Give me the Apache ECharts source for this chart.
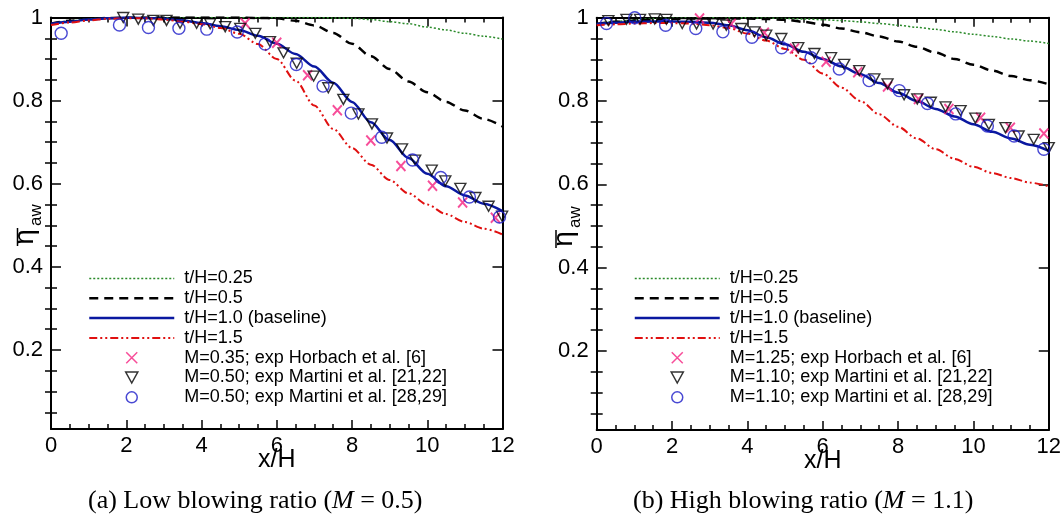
<!DOCTYPE html>
<html><head><meta charset="utf-8">
<script src="https://cdn.jsdelivr.net/npm/echarts@6/dist/echarts.min.js"></script>
<style>html,body{margin:0;padding:0;background:#fff}#c{width:1064px;height:523px}</style>
</head><body><div id="c"></div><script>
// ---------- data ----------
const yTickValues = [0.2, 0.4, 0.6, 0.8, 1];
const yMinorValues = [0.05,0.1,0.15,0.25,0.3,0.35,0.45,0.5,0.55,0.65,0.7,0.75,0.85,0.9,0.95];
const curveX = [0,0.5,1,1.5,2,2.5,3,3.5,4,4.5,5,5.5,6,6.5,7,7.5,8,8.5,9,9.5,10,10.5,11,11.5,12];

// (a) low blowing ratio, simulations
const aThick025 = [0.985,0.992,0.997,0.999,1.0,1.0,1.0,1.0,1.0,1.0,1.0,1.0,1.0,1.0,1.0,0.999,0.998,0.995,0.99,0.985,0.977,0.97,0.962,0.955,0.948];
const aThick05  = [0.985,0.992,0.996,0.999,1.0,1.0,1.0,1.0,1.0,1.0,1.0,0.999,0.998,0.992,0.981,0.963,0.937,0.907,0.876,0.846,0.82,0.797,0.776,0.756,0.738];
const aThick10  = [0.985,0.99,0.995,0.998,1.0,0.999,0.997,0.993,0.987,0.979,0.97,0.956,0.937,0.912,0.882,0.843,0.797,0.748,0.705,0.662,0.624,0.594,0.572,0.552,0.534];
const aThick15  = [0.982,0.988,0.993,0.997,0.998,0.998,0.995,0.99,0.984,0.975,0.961,0.936,0.9,0.848,0.788,0.732,0.686,0.646,0.609,0.577,0.55,0.527,0.508,0.492,0.478];
// (a) experiments
const aHorbachX = [5.16,6.0,6.82,7.61,8.5,9.3,10.14,10.94,11.81];
const aHorbachY = [0.986,0.939,0.861,0.777,0.704,0.643,0.595,0.555,0.518];
const aMart21X = [1.92,2.32,2.72,3.07,3.43,3.87,4.23,4.63,5.03,5.43,5.82,6.18,6.53,6.98,7.37,7.77,8.17,8.53,8.93,9.33,9.68,10.12,10.48,10.88,11.28,11.63,11.99];
const aMart21Y = [1.0,0.996,0.993,0.993,0.986,0.986,0.985,0.978,0.974,0.962,0.942,0.915,0.89,0.859,0.831,0.803,0.768,0.744,0.71,0.684,0.657,0.633,0.607,0.589,0.567,0.546,0.522];
const aMart28X = [0.27,1.82,2.59,3.4,4.14,4.95,5.69,6.52,7.23,7.98,8.79,9.61,10.36,11.12,11.92];
const aMart28Y = [0.962,0.982,0.976,0.974,0.972,0.965,0.936,0.887,0.835,0.77,0.712,0.657,0.615,0.568,0.52];

// (b) high blowing ratio, simulations
const bThick025 = [0.985,0.991,0.995,0.998,0.999,1.0,1.0,1.0,1.0,0.999,0.998,0.997,0.995,0.993,0.99,0.986,0.982,0.977,0.972,0.966,0.96,0.955,0.949,0.944,0.938];
const bThick05  = [0.985,0.99,0.993,0.995,0.997,0.998,0.998,0.998,0.998,0.997,0.995,0.99,0.983,0.974,0.965,0.955,0.943,0.93,0.916,0.901,0.887,0.873,0.86,0.85,0.84];
const bThick10  = [0.985,0.988,0.99,0.991,0.991,0.99,0.988,0.982,0.97,0.953,0.936,0.918,0.901,0.883,0.864,0.843,0.82,0.8,0.781,0.763,0.744,0.726,0.71,0.695,0.68];
const bThick15  = [0.982,0.984,0.986,0.987,0.987,0.986,0.982,0.975,0.962,0.945,0.925,0.899,0.866,0.832,0.8,0.768,0.738,0.71,0.684,0.661,0.642,0.627,0.615,0.604,0.595];
// (b) experiments
const bHorbachX = [2.73,3.57,4.45,5.25,6.09,6.93,7.72,8.54,9.35,10.19,10.98,11.87];
const bHorbachY = [0.998,0.985,0.964,0.926,0.894,0.869,0.835,0.805,0.781,0.76,0.736,0.722];
const bMart21X = [0.31,0.79,1.15,1.54,1.85,2.27,2.65,3.09,3.44,3.84,4.19,4.5,4.9,5.35,5.78,6.22,6.57,6.97,7.37,7.72,8.16,8.51,8.87,9.26,9.66,10.05,10.41,10.85,11.2,11.6,12.0];
const bMart21Y = [0.993,0.996,0.996,0.997,0.996,0.986,0.985,0.985,0.982,0.974,0.966,0.958,0.95,0.928,0.914,0.904,0.888,0.873,0.853,0.841,0.815,0.805,0.797,0.786,0.777,0.759,0.744,0.736,0.716,0.708,0.688];
const bMart28X = [0.26,1.01,1.83,2.63,3.35,4.12,4.91,5.69,6.44,7.23,8.03,8.78,9.53,10.37,11.08,11.87];
const bMart28Y = [0.986,1.0,0.982,0.974,0.966,0.953,0.928,0.904,0.877,0.849,0.825,0.794,0.769,0.74,0.716,0.684];

const lineNames = ['t/H=0.25','t/H=0.5','t/H=1.0 (baseline)','t/H=1.5'];
const aExpNames = ['M=0.35; exp Horbach et al. [6]','M=0.50; exp Martini et al. [21,22]','M=0.50; exp Martini et al. [28,29]'];
const bExpNames = ['M=1.25; exp Horbach et al. [6]','M=1.10; exp Martini et al. [21,22]','M=1.10; exp Martini et al. [28,29]'];
const captions = ['(a) Low blowing ratio (', 'M', ' = 0.5)', '(b) High blowing ratio (', 'M', ' = 1.1)'];

// ---------- styling ----------
const FONT = 'Liberation Sans';
const SERIF = 'Liberation Serif';
const lineStyles = [
  {color:'#2a8a2a', width:1.5, type:[2,2]},
  {color:'#000000', width:2.5, type:[9,6]},
  {color:'#0a18a0', width:2.5, type:'solid'},
  {color:'#e01010', width:2, type:[8,3,2,3,2,3]}
];
const X_PATH = 'path://M0 0L10 10M10 0L0 10';
const TRI_PATH = 'path://M0 0L11 0L5.5 10Z';
const expStyles = [
  {symbol:X_PATH, symbolSize:[9,10], border:'#f5207f', bw:2},
  {symbol:TRI_PATH, symbolSize:[11,10], border:'#000000', bw:1.4},
  {symbol:'circle', symbolSize:12, border:'#1c1cc8', bw:1.4}
];

function zip(xs, ys){ return xs.map((x,i)=>[x, ys[i]]); }

const axisLineStyle = {color:'#000', width:2};
const tickLineStyle = {color:'#000', width:1.5};

function xAxes(gi){
  const base = {type:'value', gridIndex:gi, min:0, max:12, interval:2, splitLine:{show:false},
    axisLine:{show:true, onZero:false, lineStyle:axisLineStyle},
    axisTick:{show:true, inside:true, length:9, lineStyle:tickLineStyle},
    minorTick:{show:true, splitNumber:4, length:5, lineStyle:tickLineStyle}};
  return [
    Object.assign({}, base, {position:'bottom',
      axisLabel:{show:true, fontSize:22, fontFamily:FONT, color:'#000', margin:6},
      name:'x/H', nameLocation:'middle', nameGap:19, nameMoveOverlap:false,
      nameTextStyle:{fontSize:25, fontFamily:FONT, color:'#000'}}),
    Object.assign({}, base, {position:'top', axisLabel:{show:false}})
  ];
}
function yAxes(gi){
  const base = {type:'value', gridIndex:gi, min:0.01, max:1, splitLine:{show:false}};
  return [
    Object.assign({}, base, {position:'left', axisLine:{show:true, onZero:false, lineStyle:axisLineStyle},
      axisTick:{show:true, inside:true, length:10, customValues:yTickValues, lineStyle:tickLineStyle},
      axisLabel:{show:true, customValues:yTickValues, fontSize:22, fontFamily:FONT, color:'#000', margin:8}}),
    Object.assign({}, base, {position:'left', axisLine:{show:false},
      axisTick:{show:true, inside:true, length:6, customValues:yMinorValues, lineStyle:tickLineStyle},
      axisLabel:{show:false}}),
    Object.assign({}, base, {position:'right', axisLine:{show:true, onZero:false, lineStyle:axisLineStyle},
      axisTick:{show:true, inside:true, length:10, customValues:yTickValues, lineStyle:tickLineStyle},
      axisLabel:{show:false}}),
    Object.assign({}, base, {position:'right', axisLine:{show:false},
      axisTick:{show:true, inside:true, length:6, customValues:yMinorValues, lineStyle:tickLineStyle},
      axisLabel:{show:false}})
  ];
}

function panelSeries(p, curves, expX, expY, expNames){
  const out = [];
  curves.forEach((ys, i) => {
    out.push({name:lineNames[i], type:'line', xAxisIndex:2*p, yAxisIndex:4*p,
      data: zip(curveX, ys), symbol:'none', showSymbol:false, smooth:0.3, smoothMonotone:'x',
      lineStyle: lineStyles[i], itemStyle:{color:lineStyles[i].color}, z:2, clip:true});
  });
  expNames.forEach((nm, i) => {
    const s = expStyles[i];
    out.push({name:nm, type:'scatter', xAxisIndex:2*p, yAxisIndex:4*p,
      data: zip(expX[i], expY[i]), symbol:s.symbol, symbolSize:s.symbolSize,
      itemStyle:{color:'rgba(0,0,0,0)', borderColor:s.border, borderWidth:s.bw}, clip:false, z:3});
  });
  return out;
}

function legend(left, expNames){
  const data = lineNames.map(n => ({name:n, itemStyle:{opacity:0}})).concat(expNames.map(n => ({name:n})));
  return {orient:'vertical', left:left, top:264.5, itemWidth:85, itemHeight:11, itemGap:1.8,
    selectedMode:false, data:data,
    textStyle:{fontSize:18, fontFamily:FONT, color:'#000', lineHeight:18, padding:[0,0,0,5]},
    itemStyle:{borderWidth:1.5}, lineStyle:{width:'inherit'}};
}

function yLabel(cx, cy){
  return {type:'group', x:cx, y:cy, rotation:Math.PI/2, silent:true, children:[
    {type:'text', x:0, y:-3, style:{text:'\u03b7', fontSize:28, fontFamily:FONT, fill:'#000',
      align:'center', verticalAlign:'middle', textAlign:'center', textVerticalAlign:'middle'}},
    {type:'line', shape:{x1:-9, y1:-11, x2:9, y2:-11}, style:{stroke:'#000', lineWidth:1.5}},
    {type:'text', x:11, y:8, style:{text:'aw', fontSize:17, fontFamily:FONT, fill:'#000',
      align:'left', verticalAlign:'middle', textAlign:'left', textVerticalAlign:'middle'}}
  ]};
}
function caption(x, y, parts){
  return {type:'text', x:x, y:y, silent:true, style:{
    text:'{n|' + parts[0] + '}{i|' + parts[1] + '}{n|' + parts[2] + '}',
    rich:{n:{fontSize:26, fontFamily:SERIF, fill:'#000'}, i:{fontSize:26, fontFamily:SERIF, fontStyle:'italic', fill:'#000'}},
    align:'left', verticalAlign:'middle', textAlign:'left', textVerticalAlign:'middle'}};
}

const option = {
  animation:false,
  backgroundColor:'#fff',
  grid:[
    {left:51, top:17.5, width:451.5, height:411.5, containLabel:false},
    {left:596.7, top:17.7, width:453.3, height:412.3, containLabel:false}
  ],
  xAxis: xAxes(0).concat(xAxes(1)),
  yAxis: yAxes(0).concat(yAxes(1)),
  legend:[ legend(83, aExpNames), legend(628.5, bExpNames) ],
  series: panelSeries(0, [aThick025,aThick05,aThick10,aThick15], [aHorbachX,aMart21X,aMart28X], [aHorbachY,aMart21Y,aMart28Y], aExpNames)
    .concat(panelSeries(1, [bThick025,bThick05,bThick10,bThick15], [bHorbachX,bMart21X,bMart28X], [bHorbachY,bMart21Y,bMart28Y], bExpNames)),
  graphic:[
    yLabel(28.5, 237),
    yLabel(567, 239),
    caption(88, 501, captions.slice(0,3)),
    caption(633, 501, captions.slice(3,6))
  ]
};
const chart = echarts.init(document.getElementById('c'), null, {renderer:'canvas'});
chart.setOption(option);
</script></body></html>
